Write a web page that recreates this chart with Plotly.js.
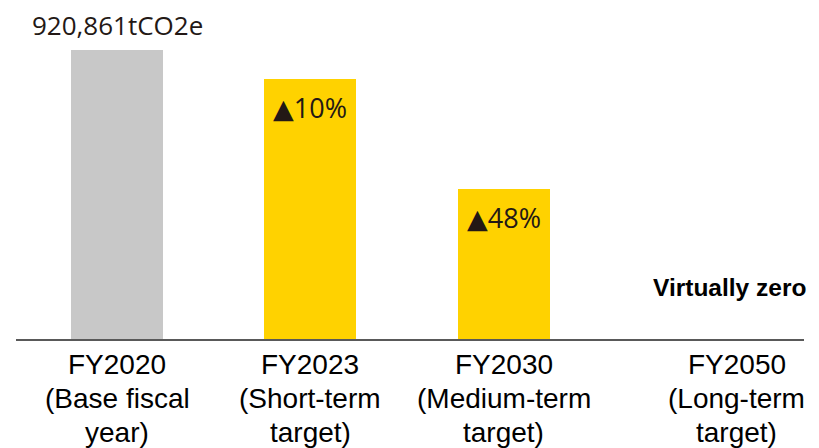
<!DOCTYPE html>
<html>
<head>
<meta charset="utf-8">
<script src="https://cdn.plot.ly/plotly-3.0.1.min.js"></script>
<style>html,body{margin:0;padding:0;background:#fff;}#chart{width:819px;height:448px;}</style>
</head>
<body>
<div id="chart"></div>
<script>
const categories = ["FY2020", "FY2023", "FY2030", "FY2050"];
const labelLine2 = ["(Base fiscal", "(Short-term", "(Medium-term", "(Long-term"];
const labelLine3 = ["year)", "target)", "target)", "target)"];
const emissions = [920861, 828775, 478848, 0];
const barColors = ["#C8C8C8", "#FFD200", "#FFD200", "#FFD200"];
const baseLabel = "920,861tCO2e";
const reductionLabels = ["", "10%", "48%", ""];
const longTermLabel = "Virtually zero";

const trace = {
  type: "bar",
  x: categories,
  y: emissions,
  marker: {color: barColors, line: {width: 0}},
  width: 0.475,
  hoverinfo: "skip"
};

const textColor = "#231815";
const annotations = [];
annotations.push({x: categories[0], y: emissions[0], xref: "x", yref: "y", text: baseLabel,
  showarrow: false, yanchor: "bottom", yshift: 5,
  font: {family: "Open Sans, Noto Sans, sans-serif", size: 26, color: textColor}});
for (let i = 1; i <= 2; i++) {
  annotations.push({x: categories[i], y: emissions[i], xref: "x", yref: "y",
    text: '<span style="font-family:DejaVu Sans">▲</span>' + reductionLabels[i],
    showarrow: false, yanchor: "top", yshift: -8,
    font: {family: "Open Sans, Noto Sans, sans-serif", size: 27, color: textColor}});
}
annotations.push({x: 3, y: emissions[3], xref: "x", yref: "y", text: "<b>" + longTermLabel + "</b>",
  showarrow: false, yanchor: "middle", xanchor: "center", xshift: 33, yshift: 52,
  font: {family: "Liberation Sans, Arial, sans-serif", size: 24.5, color: "#000"}});
const lineSets = [categories, labelLine2, labelLine3];
const lineShift = [-25, -59, -93];
for (let i = 0; i < categories.length; i++) {
  for (let j = 0; j < 3; j++) {
    annotations.push({x: i, y: 0, xref: "x", yref: "paper", text: lineSets[j][i],
      showarrow: false, yanchor: "middle", xanchor: "center",
      xshift: i === 3 ? 40 : 0, yshift: lineShift[j],
      font: {family: "Liberation Sans, Arial, sans-serif", size: 28, color: "#000"}});
  }
}

const layout = {
  width: 819, height: 448,
  margin: {l: 16, r: 15, t: 10, b: 109, pad: 0},
  paper_bgcolor: "#fff", plot_bgcolor: "#fff",
  showlegend: false,
  bargap: 0,
  xaxis: {type: "category", range: [-0.5225, 3.554], showline: true, linecolor: "#595959", linewidth: 2,
    showgrid: false, zeroline: false, ticks: "", showticklabels: false, fixedrange: true},
  yaxis: {range: [0, 1050000], visible: false, showgrid: false, zeroline: false, fixedrange: true},
  annotations: annotations
};

Plotly.newPlot("chart", [trace], layout, {displayModeBar: false, staticPlot: true});
</script>
</body>
</html>
